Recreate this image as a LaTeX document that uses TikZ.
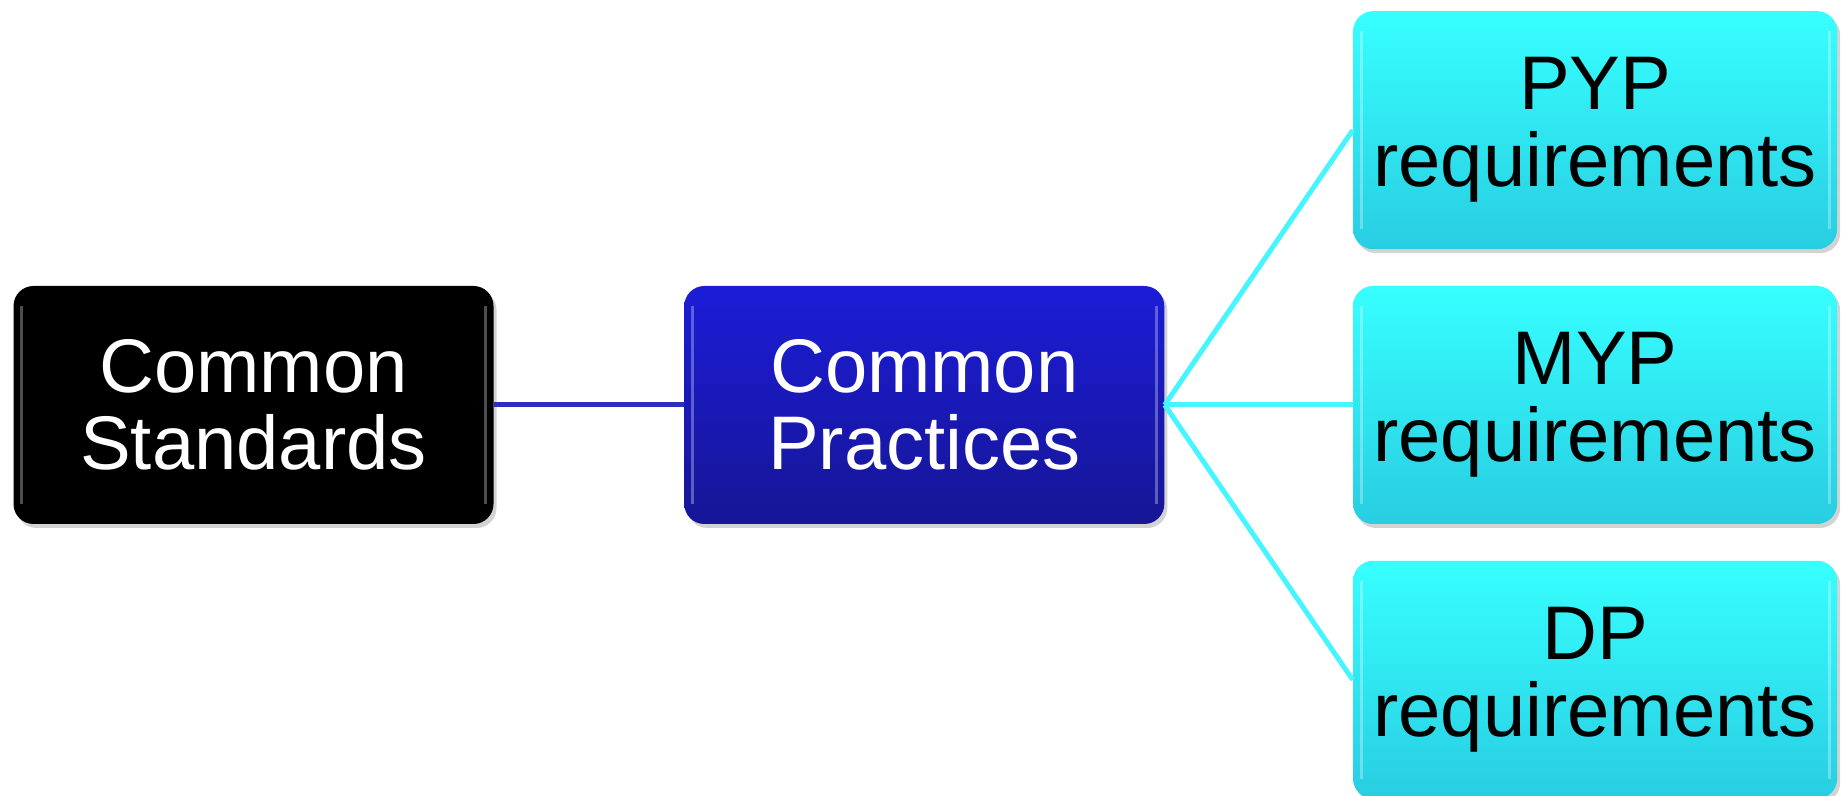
\documentclass[tikz,border=0pt]{standalone}
\usepackage{fontspec}
\setmainfont{Liberation Sans}
\usetikzlibrary{shapes.geometric, arrows, shadows, positioning}
\definecolor{pracblue}{RGB}{28,28,215}
\definecolor{pracdark}{RGB}{22,22,150}
\definecolor{reqcyan}{RGB}{55,255,255}
\definecolor{reqdark}{RGB}{40,205,225}
\definecolor{linkblue}{RGB}{45,45,190}
\definecolor{linkcyan}{RGB}{70,245,255}
\tikzstyle{gloss} = [path picture={
	\draw [white, opacity=0.3, line width=1.5pt] ([xshift=4pt, yshift=-10pt]path picture bounding box.north west) -- ([xshift=4pt, yshift=10pt]path picture bounding box.south west);
	\draw [white, opacity=0.3, line width=1.5pt] ([xshift=-4pt, yshift=-10pt]path picture bounding box.north east) -- ([xshift=-4pt, yshift=10pt]path picture bounding box.south east);}]
\tikzstyle{process} = [rectangle, rounded corners=10pt, minimum width=240pt, minimum height=119pt, inner sep=2pt, text centered, align=center, font=\fontsize{38}{38.5}\selectfont, gloss, drop shadow={shadow xshift=1.5pt, shadow yshift=-2pt, opacity=0.35}]
\tikzstyle{reqbox} = [process, minimum width=242pt, top color=reqcyan, bottom color=reqdark, text=black]
\tikzstyle{link} = [line width=2.5pt, linkblue]
\tikzstyle{sublink} = [line width=2.5pt, linkcyan]

\begin{document}
\begin{tikzpicture}[x=1pt, y=1pt]
	\useasboundingbox (0,0) rectangle (920.5,398);
	\node (pro1) [process, fill=black, text=white] at (126.75,195.5) {Common\\Standards};
	\node (pro2) [process, right=95pt of pro1, top color=pracblue, bottom color=pracdark, text=white] {Common\\Practices};

	\node (req2) [reqbox, right=94pt of pro2] {MYP\\requirements};
	\node (req1) [reqbox, above=18pt of req2] {PYP\\requirements};
	\node (req3) [reqbox, below=18pt of req2] {DP\\requirements};

	\draw [link] (pro1) -- (pro2);
	\draw [sublink] (pro2.east) -- (req1.west);
	\draw [sublink] (pro2.east) -- (req2.west);
	\draw [sublink] (pro2.east) -- (req3.west);
\end{tikzpicture}
\end{document}
